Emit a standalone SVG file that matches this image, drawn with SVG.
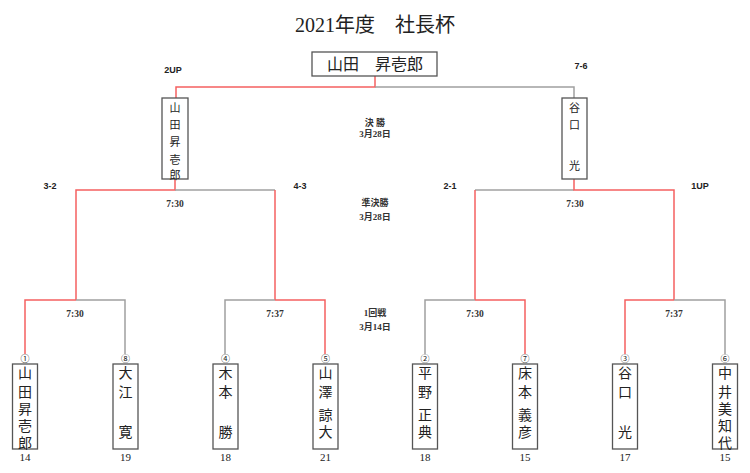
<svg xmlns="http://www.w3.org/2000/svg" width="750" height="473" viewBox="0 0 750 473">
<style>
.t{font-family:"Liberation Serif","Noto Sans CJK JP",serif;fill:#222}
.title{font-size:20px}
.champ{font-size:16px}
.semi{font-size:11px}
.pl{font-size:14px}
.num{font-size:11px}
.circ{font-size:9px}
.sc{font-family:"Liberation Sans",Arial,sans-serif;font-size:9px;font-weight:bold;fill:#222}
.tm{font-family:"Liberation Serif","Noto Sans CJK JP",serif;font-size:9.5px;font-weight:bold;fill:#333}
.rd{font-family:"Liberation Serif","Noto Sans CJK JP",serif;font-size:9px;font-weight:bold;fill:#333}
.box{fill:#fff;stroke:#555;stroke-width:1.3}
.g{fill:none;stroke:#a0a0a0;stroke-width:1.5}
.r{fill:none;stroke:#f56060;stroke-width:1.5}
</style>
<rect width="750" height="473" fill="#fff"/>
<text class="t title" x="375" y="32" text-anchor="middle">2021年度　社長杯</text>

<g id="connectors">
<!-- final -->
<path class="r" d="M375 76V87H176V98"/>
<path class="g" d="M375 87H574V98"/>
<!-- semifinals left -->
<path class="r" d="M175 179V190H76V300"/>
<path class="g" d="M175 190H275"/>
<path class="r" d="M275 190V300"/>
<!-- semifinals right -->
<path class="g" d="M574 190H475"/>
<path class="r" d="M475 190V300"/>
<path class="r" d="M574 179V190H674V300"/>
<!-- first round -->
<path class="r" d="M76 300H25V354"/>
<path class="g" d="M76 300H125V354"/>
<path class="g" d="M275 300H225V354"/>
<path class="r" d="M275 300H325V354"/>
<path class="g" d="M475 300H425V354"/>
<path class="r" d="M475 300H525V354"/>
<path class="r" d="M674 300H625V354"/>
<path class="g" d="M674 300H725V354"/>
</g>

<g id="labels">
<text class="sc" x="173" y="73" text-anchor="middle">2UP</text>
<text class="sc" x="581" y="69" text-anchor="middle">7-6</text>
<text class="sc" x="50" y="189" text-anchor="middle">3-2</text>
<text class="sc" x="300" y="189" text-anchor="middle">4-3</text>
<text class="sc" x="450" y="189" text-anchor="middle">2-1</text>
<text class="sc" x="700" y="189" text-anchor="middle">1UP</text>
<text class="tm" x="175" y="207" text-anchor="middle">7:30</text>
<text class="tm" x="575" y="207" text-anchor="middle">7:30</text>
<text class="tm" x="75" y="317" text-anchor="middle">7:30</text>
<text class="tm" x="275" y="317" text-anchor="middle">7:37</text>
<text class="tm" x="475" y="317" text-anchor="middle">7:30</text>
<text class="tm" x="674" y="317" text-anchor="middle">7:37</text>
<text class="rd" x="375" y="126" text-anchor="middle">決 勝</text>
<text class="rd" x="375" y="137" text-anchor="middle">3月28日</text>
<text class="rd" x="375" y="206" text-anchor="middle">準決勝</text>
<text class="rd" x="375" y="220" text-anchor="middle">3月28日</text>
<text class="rd" x="375" y="316" text-anchor="middle">1回戦</text>
<text class="rd" x="375" y="330" text-anchor="middle">3月14日</text>
</g>

<g id="champion">
<rect class="box" x="312" y="52" width="125" height="24"/>
<text class="t champ" x="375" y="70" text-anchor="middle">山田　昇壱郎</text>
</g>

<g id="semi-left">
<rect class="box" x="162" y="98" width="26" height="81"/>
<g class="t semi" text-anchor="middle">
<text x="175" y="112">山</text><text x="175" y="129">田</text><text x="175" y="146">昇</text><text x="175" y="164">壱</text><text x="175" y="179">郎</text>
</g>
</g>
<g id="semi-right">
<rect class="box" x="562" y="98" width="25" height="81"/>
<g class="t semi" text-anchor="middle">
<text x="574.5" y="112">谷</text><text x="574.5" y="129">口</text><text x="574.5" y="170">光</text>
</g>
</g>

<g id="p1">
<text class="t circ" x="25" y="362" text-anchor="middle">①</text>
<rect class="box" x="12.5" y="364" width="25" height="85"/>
<g class="t pl" text-anchor="middle"><text x="25" y="378">山</text><text x="25" y="397">田</text><text x="25" y="414">昇</text><text x="25" y="431">壱</text><text x="25" y="448">郎</text></g>
<text class="t num" x="25" y="461" text-anchor="middle">14</text>
</g>
<g id="p8">
<text class="t circ" x="125.5" y="362" text-anchor="middle">⑧</text>
<rect class="box" x="113" y="364" width="25" height="85"/>
<g class="t pl" text-anchor="middle"><text x="125.5" y="378">大</text><text x="125.5" y="397">江</text><text x="125.5" y="437">寛</text></g>
<text class="t num" x="125.5" y="461" text-anchor="middle">19</text>
</g>
<g id="p4">
<text class="t circ" x="225.5" y="362" text-anchor="middle">④</text>
<rect class="box" x="213" y="364" width="25" height="85"/>
<g class="t pl" text-anchor="middle"><text x="225.5" y="378">木</text><text x="225.5" y="397">本</text><text x="225.5" y="437">勝</text></g>
<text class="t num" x="225.5" y="461" text-anchor="middle">18</text>
</g>
<g id="p5">
<text class="t circ" x="325.5" y="362" text-anchor="middle">⑤</text>
<rect class="box" x="313" y="364" width="25" height="85"/>
<g class="t pl" text-anchor="middle"><text x="325.5" y="378">山</text><text x="325.5" y="397">澤</text><text x="325.5" y="420">諒</text><text x="325.5" y="437">大</text></g>
<text class="t num" x="325.5" y="461" text-anchor="middle">21</text>
</g>
<g id="p2">
<text class="t circ" x="425" y="362" text-anchor="middle">②</text>
<rect class="box" x="412.5" y="364" width="25" height="85"/>
<g class="t pl" text-anchor="middle"><text x="425" y="378">平</text><text x="425" y="397">野</text><text x="425" y="420">正</text><text x="425" y="437">典</text></g>
<text class="t num" x="425" y="461" text-anchor="middle">18</text>
</g>
<g id="p7">
<text class="t circ" x="525" y="362" text-anchor="middle">⑦</text>
<rect class="box" x="512.5" y="364" width="25" height="85"/>
<g class="t pl" text-anchor="middle"><text x="525" y="378">床</text><text x="525" y="397">本</text><text x="525" y="420">義</text><text x="525" y="437">彦</text></g>
<text class="t num" x="525" y="461" text-anchor="middle">15</text>
</g>
<g id="p3">
<text class="t circ" x="625" y="362" text-anchor="middle">③</text>
<rect class="box" x="612.5" y="364" width="25" height="85"/>
<g class="t pl" text-anchor="middle"><text x="625" y="378">谷</text><text x="625" y="397">口</text><text x="625" y="437">光</text></g>
<text class="t num" x="625" y="461" text-anchor="middle">17</text>
</g>
<g id="p6">
<text class="t circ" x="725" y="362" text-anchor="middle">⑥</text>
<rect class="box" x="712.5" y="364" width="25" height="85"/>
<g class="t pl" text-anchor="middle"><text x="725" y="378">中</text><text x="725" y="397">井</text><text x="725" y="414">美</text><text x="725" y="431">知</text><text x="725" y="448">代</text></g>
<text class="t num" x="725" y="461" text-anchor="middle">15</text>
</g>
</svg>
